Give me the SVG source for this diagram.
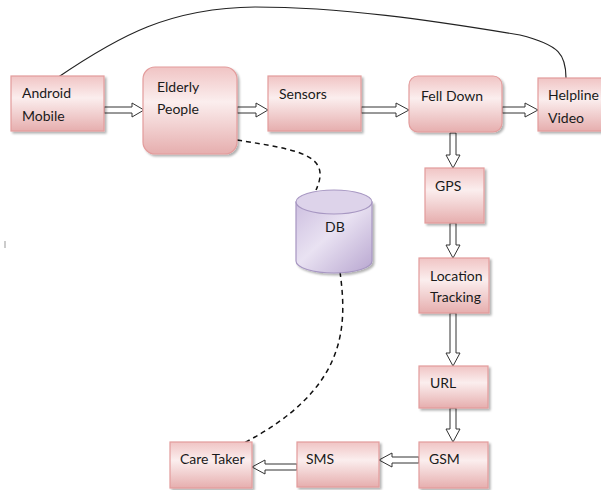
<svg xmlns="http://www.w3.org/2000/svg" width="601" height="490" viewBox="0 0 601 490">
  <defs>
    <linearGradient id="pink" x1="0" y1="0" x2="0" y2="1">
      <stop offset="0" stop-color="#f0c4c4"/>
      <stop offset="0.4" stop-color="#fbeeee"/>
      <stop offset="1" stop-color="#e6aeae"/>
    </linearGradient>
    <linearGradient id="purple" x1="0" y1="0" x2="1" y2="1">
      <stop offset="0" stop-color="#cdbfe0"/>
      <stop offset="0.45" stop-color="#e9e2f2"/>
      <stop offset="1" stop-color="#b8a6d0"/>
    </linearGradient>
    <filter id="shadow" x="-10%" y="-10%" width="125%" height="130%">
      <feDropShadow dx="2" dy="2" stdDeviation="1.2" flood-color="#000" flood-opacity="0.3"/>
    </filter>
  </defs>
  <style>
    .box { fill: url(#pink); stroke: #e39c9c; stroke-width: 1.2; filter: url(#shadow); }
    .lbl { font-family: "Lato", "Open Sans", "Liberation Sans", sans-serif; font-size: 14px; fill: #1a1a1a; }
    .blk { fill: #fff; stroke: #333; stroke-width: 1; stroke-linejoin: miter; }
    .dash { fill: none; stroke: #111; stroke-width: 1.5; stroke-dasharray: 5 4; }
    .line { fill: none; stroke: #222; stroke-width: 1.2; }
  </style>

  <rect width="601" height="490" fill="#fff"/>

  <g id="connectors">
    <!-- curved link from Android Mobile to Helpline Video -->
    <path class="line" d="M57,78 C120,35 170,8 255,7 C340,7 430,20 520,35 C560,45 566,55 566,78"/>
    <!-- dashed links to and from the database -->
    <path class="dash" d="M237,140 C300,150 332,155 316,190"/>
    <path class="dash" d="M340,272 C348,330 345,390 244,443"/>
    <!-- hollow block arrows -->
    <polygon class="blk" points="104,107 132,107 132,103 144,110 132,117 132,113 104,113"/>
    <polygon class="blk" points="237,107 256,107 256,103 268,110 256,117 256,113 237,113"/>
    <polygon class="blk" points="361,107 396,107 396,103 409,110 396,117 396,113 361,113"/>
    <polygon class="blk" points="502,107 525,107 525,103 538,110 525,117 525,113 502,113"/>
    <polygon class="blk" points="450,133 456,133 456,155 460,155 453,168 446,155 450,155"/>
    <polygon class="blk" points="450,223 456,223 456,245 460,245 453,258 446,245 450,245"/>
    <polygon class="blk" points="450,313 456,313 456,353 460,353 453,366 446,353 450,353"/>
    <polygon class="blk" points="450,408 456,408 456,429 460,429 453,442 446,429 450,429"/>
    <polygon class="blk" points="419,457 419,463 392,463 392,467 379,460 392,453 392,457"/>
    <polygon class="blk" points="297,464 297,470 265,470 265,474 252,467 265,460 265,464"/>
  </g>

  <!-- stray tick at the left margin -->
  <line x1="5" y1="241" x2="5" y2="248" stroke="#999" stroke-width="1"/>

  <g id="android-mobile">
    <rect class="box" x="11" y="76" width="93" height="55"/>
    <text class="lbl" x="22" y="98">Android</text>
    <text class="lbl" x="22" y="121">Mobile</text>
  </g>

  <g id="elderly-people">
    <rect class="box" x="143" y="67" width="94" height="87" rx="12"/>
    <text class="lbl" x="157" y="92">Elderly</text>
    <text class="lbl" x="157" y="114">People</text>
  </g>

  <g id="sensors">
    <rect class="box" x="268" y="76" width="93" height="55"/>
    <text class="lbl" x="279" y="99">Sensors</text>
  </g>

  <g id="fell-down">
    <rect class="box" x="409" y="76" width="93" height="56" rx="9"/>
    <text class="lbl" x="421" y="101">Fell Down</text>
  </g>

  <g id="helpline-video">
    <rect class="box" x="538" y="78" width="66" height="53"/>
    <text class="lbl" x="548" y="100">Helpline</text>
    <text class="lbl" x="548" y="123">Video</text>
  </g>

  <g id="gps">
    <rect class="box" x="425" y="168" width="59" height="55"/>
    <text class="lbl" x="435" y="191">GPS</text>
  </g>

  <g id="db">
    <path d="M296,202 L296,261 A38,12 0 0 0 372,261 L372,202 Z" fill="url(#purple)" stroke="#a797c2" stroke-width="1.2" filter="url(#shadow)"/>
    <ellipse cx="334" cy="202" rx="38" ry="12" fill="#ddd3ea" stroke="#a797c2" stroke-width="1.2"/>
    <text class="lbl" x="325" y="232">DB</text>
  </g>

  <g id="location-tracking">
    <rect class="box" x="419" y="258" width="70" height="55"/>
    <text class="lbl" x="430" y="281">Location</text>
    <text class="lbl" x="430" y="302">Tracking</text>
  </g>

  <g id="url">
    <rect class="box" x="419" y="366" width="69" height="42"/>
    <text class="lbl" x="430" y="388">URL</text>
  </g>

  <g id="gsm">
    <rect class="box" x="419" y="442" width="69" height="46"/>
    <text class="lbl" x="429" y="464">GSM</text>
  </g>

  <g id="sms">
    <rect class="box" x="297" y="442" width="82" height="45"/>
    <text class="lbl" x="306" y="464">SMS</text>
  </g>

  <g id="care-taker">
    <rect class="box" x="170" y="442" width="82" height="46"/>
    <text class="lbl" x="180" y="464">Care Taker</text>
  </g>
</svg>
